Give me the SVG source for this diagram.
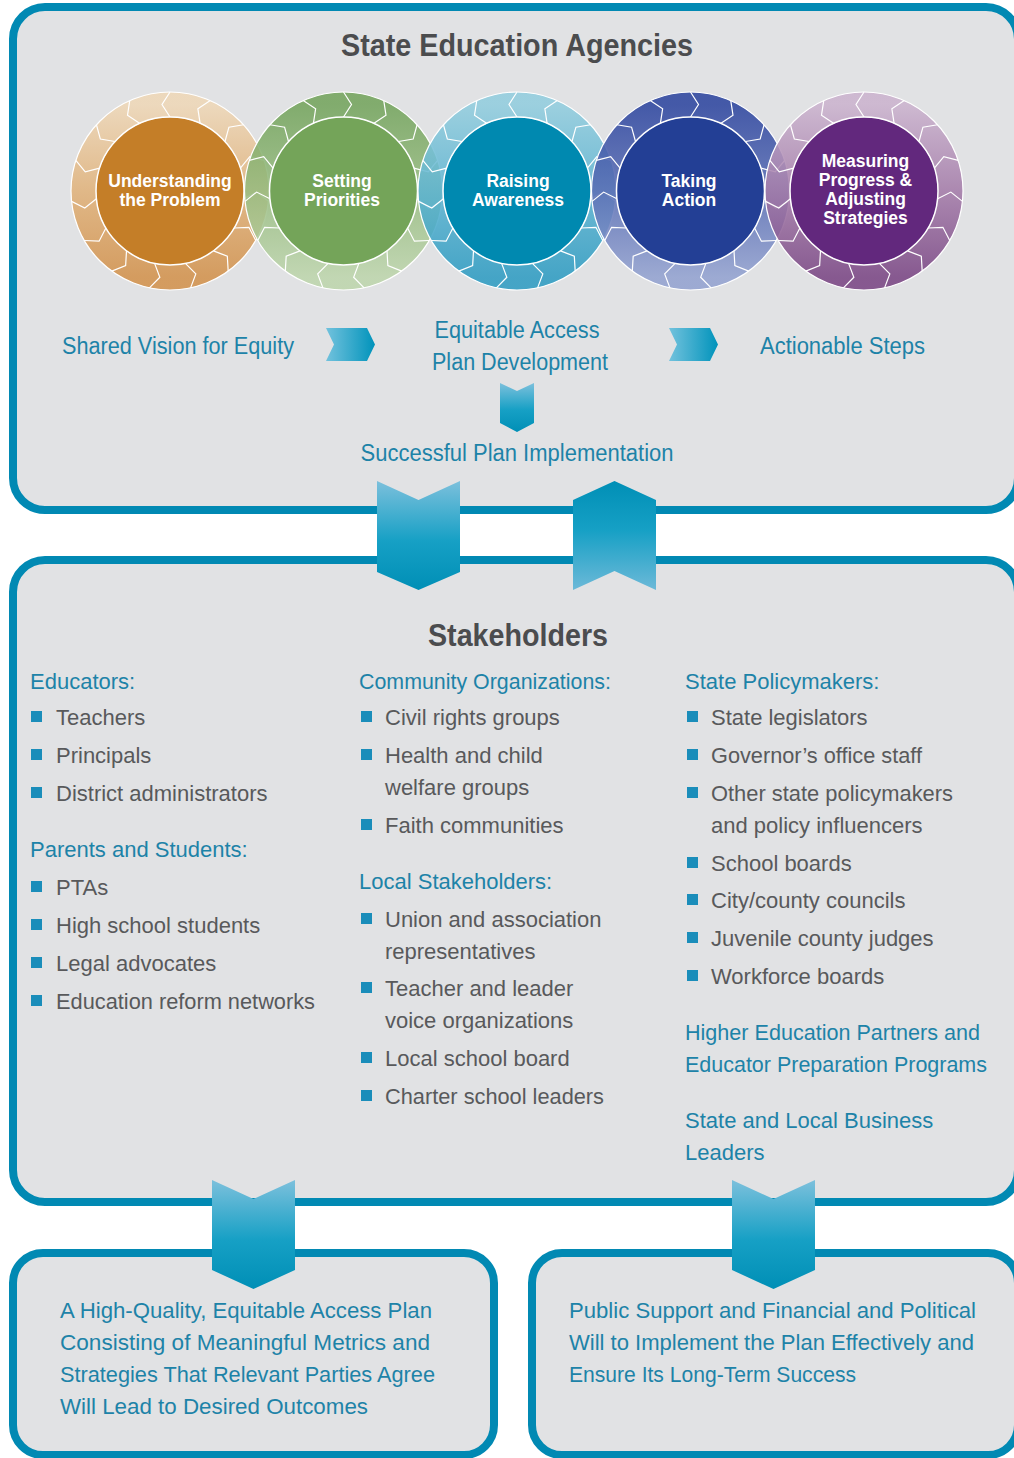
<svg xmlns="http://www.w3.org/2000/svg" width="1014" height="1458" viewBox="0 0 1014 1458">
  <style>
    .panel{fill:#E1E2E4;stroke:#0189B3;stroke-width:8}
    .title{font-family:"Liberation Sans",Arial,sans-serif;font-weight:bold;font-size:31px;fill:#4B4C4E;text-anchor:middle}
    .stage{font-family:"Liberation Sans",Arial,sans-serif;font-weight:bold;font-size:17.5px;fill:#FFFFFF;text-anchor:middle}
    .core{stroke:#FFFFFF;stroke-width:1.5}
    .rim{fill:none;stroke-width:25;stroke-opacity:0.88}
    .edge{fill:none;stroke:#FFFFFF;stroke-width:1.2}
    .seam{fill:none;stroke:#FFFFFF;stroke-width:1.2;stroke-linejoin:miter}
    .lead{font-family:"Liberation Sans",Arial,sans-serif;font-size:23px;fill:#1D83A8}
    .head{font-family:"Liberation Sans",Arial,sans-serif;font-size:22px;fill:#1D83A8}
    .item{font-family:"Liberation Sans",Arial,sans-serif;font-size:22px;fill:#58595B}
    .dot{fill:#1A8DBA}
    .mid{text-anchor:middle}
  </style>
  <defs>
    <linearGradient id="ringOrange" x1="0" y1="0" x2="0" y2="1">
      <stop offset="0" stop-color="#EED7B7"/><stop offset="0.5" stop-color="#E0B27B"/><stop offset="1" stop-color="#D2924D"/>
    </linearGradient>
    <linearGradient id="ringGreen" x1="0" y1="0" x2="0" y2="1">
      <stop offset="0" stop-color="#74A45D"/><stop offset="0.5" stop-color="#98BC81"/><stop offset="1" stop-color="#BDD5AC"/>
    </linearGradient>
    <linearGradient id="ringCyan" x1="0" y1="0" x2="0" y2="1">
      <stop offset="0" stop-color="#92CDDE"/><stop offset="0.5" stop-color="#5EB4D1"/><stop offset="1" stop-color="#2F9CC2"/>
    </linearGradient>
    <linearGradient id="ringBlue" x1="0" y1="0" x2="0" y2="1">
      <stop offset="0" stop-color="#2E469F"/><stop offset="0.5" stop-color="#5B6FB5"/><stop offset="1" stop-color="#93A2D0"/>
    </linearGradient>
    <linearGradient id="ringPurple" x1="0" y1="0" x2="0" y2="1">
      <stop offset="0" stop-color="#CBB3CE"/><stop offset="0.5" stop-color="#A47CA9"/><stop offset="1" stop-color="#7A4684"/>
    </linearGradient>
    <linearGradient id="flowRight" x1="0" y1="0" x2="1" y2="0">
      <stop offset="0" stop-color="#72C2DD"/><stop offset="1" stop-color="#0093BB"/>
    </linearGradient>
    <linearGradient id="flowDown" x1="0" y1="0" x2="0" y2="1">
      <stop offset="0" stop-color="#7CC0DC"/><stop offset="0.55" stop-color="#16A0C5"/><stop offset="1" stop-color="#008FB6"/>
    </linearGradient>
    <linearGradient id="flowUp" x1="0" y1="0" x2="0" y2="1">
      <stop offset="0" stop-color="#008FB6"/><stop offset="0.45" stop-color="#16A0C5"/><stop offset="1" stop-color="#6CB9D8"/>
    </linearGradient>
    <!-- chevron seam across a ring, drawn at the top of a circle centred on the origin -->
    <path id="kinkL" class="seam" d="M0,-74 L-8,-86.5 L0,-99"/>
    <path id="kinkR" class="seam" d="M0,-74 L8,-86.5 L0,-99"/>
    <g id="seamsCCW">
      <use href="#kinkL"/><use href="#kinkL" transform="rotate(24)"/><use href="#kinkL" transform="rotate(48)"/><use href="#kinkL" transform="rotate(72)"/>
      <use href="#kinkL" transform="rotate(96)"/><use href="#kinkL" transform="rotate(120)"/><use href="#kinkL" transform="rotate(144)"/><use href="#kinkL" transform="rotate(168)"/>
      <use href="#kinkL" transform="rotate(192)"/><use href="#kinkL" transform="rotate(216)"/><use href="#kinkL" transform="rotate(240)"/><use href="#kinkL" transform="rotate(264)"/>
      <use href="#kinkL" transform="rotate(288)"/><use href="#kinkL" transform="rotate(312)"/><use href="#kinkL" transform="rotate(336)"/>
    </g>
    <g id="seamsCW">
      <use href="#kinkR"/><use href="#kinkR" transform="rotate(24)"/><use href="#kinkR" transform="rotate(48)"/><use href="#kinkR" transform="rotate(72)"/>
      <use href="#kinkR" transform="rotate(96)"/><use href="#kinkR" transform="rotate(120)"/><use href="#kinkR" transform="rotate(144)"/><use href="#kinkR" transform="rotate(168)"/>
      <use href="#kinkR" transform="rotate(192)"/><use href="#kinkR" transform="rotate(216)"/><use href="#kinkR" transform="rotate(240)"/><use href="#kinkR" transform="rotate(264)"/>
      <use href="#kinkR" transform="rotate(288)"/><use href="#kinkR" transform="rotate(312)"/><use href="#kinkR" transform="rotate(336)"/>
    </g>
  </defs>

  <rect width="1014" height="1458" fill="#FFFFFF"/>

  <!-- State Education Agencies panel -->
  <g id="agencies">
    <rect class="panel" x="13" y="7" width="1005" height="503" rx="32"/>
    <text class="title" x="517" y="56" textLength="352" lengthAdjust="spacingAndGlyphs">State Education Agencies</text>
  </g>

  <!-- cycle of stages -->
  <g id="stage-understanding" transform="translate(170,191)">
    <circle class="rim" r="86.5" stroke="url(#ringOrange)"/>
    <use href="#seamsCCW"/>
    <circle class="edge" r="99"/>
    <circle class="core" r="74" fill="#C47E28"/>
    <text class="stage" x="0" y="-4">Understanding</text>
    <text class="stage" x="0" y="14.5">the Problem</text>
  </g>
  <g id="stage-priorities" transform="translate(343.5,191)">
    <circle class="rim" r="86.5" stroke="url(#ringGreen)"/>
    <use href="#seamsCW"/>
    <circle class="edge" r="99"/>
    <circle class="core" r="74" fill="#74A459"/>
    <text class="stage" x="-1.5" y="-4">Setting</text>
    <text class="stage" x="-1.5" y="14.5">Priorities</text>
  </g>
  <g id="stage-awareness" transform="translate(517,191)">
    <circle class="rim" r="86.5" stroke="url(#ringCyan)"/>
    <use href="#seamsCCW"/>
    <circle class="edge" r="99"/>
    <circle class="core" r="74" fill="#0089B0"/>
    <text class="stage" x="1" y="-4">Raising</text>
    <text class="stage" x="1" y="14.5">Awareness</text>
  </g>
  <g id="stage-action" transform="translate(690.5,191)">
    <circle class="rim" r="86.5" stroke="url(#ringBlue)"/>
    <use href="#seamsCW"/>
    <circle class="edge" r="99"/>
    <circle class="core" r="74" fill="#233F95"/>
    <text class="stage" x="-1.5" y="-4">Taking</text>
    <text class="stage" x="-1.5" y="14.5">Action</text>
  </g>
  <g id="stage-measuring" transform="translate(864,191)">
    <circle class="rim" r="86.5" stroke="url(#ringPurple)"/>
    <use href="#seamsCCW"/>
    <circle class="edge" r="99"/>
    <circle class="core" r="74" fill="#62287D"/>
    <text class="stage" x="1.5" y="-24.5">Measuring</text>
    <text class="stage" x="1.5" y="-5.5">Progress &amp;</text>
    <text class="stage" x="1.5" y="14">Adjusting</text>
    <text class="stage" x="1.5" y="33">Strategies</text>
  </g>

  <!-- plan stages -->
  <g id="vision">
    <text class="lead" x="62" y="354" textLength="232" lengthAdjust="spacingAndGlyphs">Shared Vision for Equity</text>
  </g>
  <g id="development">
    <text class="lead mid" x="517" y="338" textLength="165" lengthAdjust="spacingAndGlyphs">Equitable Access</text>
    <text class="lead mid" x="520" y="370" textLength="176" lengthAdjust="spacingAndGlyphs">Plan Development</text>
  </g>
  <g id="steps">
    <text class="lead" x="760" y="354" textLength="165" lengthAdjust="spacingAndGlyphs">Actionable Steps</text>
  </g>
  <g id="implementation">
    <text class="lead mid" x="517" y="461" textLength="313" lengthAdjust="spacingAndGlyphs">Successful Plan Implementation</text>
  </g>

  <!-- Stakeholders panel -->
  <g id="stakeholders">
    <rect class="panel" x="13" y="560" width="1005" height="642" rx="32"/>
    <text class="title" x="518" y="646" textLength="180" lengthAdjust="spacingAndGlyphs">Stakeholders</text>
  </g>

  <g id="educators">
    <text class="head" x="30" y="689">Educators:</text>
    <rect class="dot" x="31" y="711" width="11" height="11"/>
    <text class="item" x="56" y="725">Teachers</text>
    <rect class="dot" x="31" y="749" width="11" height="11"/>
    <text class="item" x="56" y="763">Principals</text>
    <rect class="dot" x="31" y="787" width="11" height="11"/>
    <text class="item" x="56" y="801">District administrators</text>
  </g>
  <g id="parents-students">
    <text class="head" x="30" y="857">Parents and Students:</text>
    <rect class="dot" x="31" y="881" width="11" height="11"/>
    <text class="item" x="56" y="895">PTAs</text>
    <rect class="dot" x="31" y="919" width="11" height="11"/>
    <text class="item" x="56" y="933">High school students</text>
    <rect class="dot" x="31" y="957" width="11" height="11"/>
    <text class="item" x="56" y="971">Legal advocates</text>
    <rect class="dot" x="31" y="995" width="11" height="11"/>
    <text class="item" x="56" y="1009" textLength="259" lengthAdjust="spacingAndGlyphs">Education reform networks</text>
  </g>

  <g id="community">
    <text class="head" x="359" y="689" textLength="252" lengthAdjust="spacingAndGlyphs">Community Organizations:</text>
    <rect class="dot" x="361" y="711" width="11" height="11"/>
    <text class="item" x="385" y="725">Civil rights groups</text>
    <rect class="dot" x="361" y="749" width="11" height="11"/>
    <text class="item" x="385" y="763">Health and child</text>
    <text class="item" x="385" y="795">welfare groups</text>
    <rect class="dot" x="361" y="819" width="11" height="11"/>
    <text class="item" x="385" y="833">Faith communities</text>
  </g>
  <g id="local">
    <text class="head" x="359" y="889">Local Stakeholders:</text>
    <rect class="dot" x="361" y="913" width="11" height="11"/>
    <text class="item" x="385" y="927">Union and association</text>
    <text class="item" x="385" y="959">representatives</text>
    <rect class="dot" x="361" y="982" width="11" height="11"/>
    <text class="item" x="385" y="996">Teacher and leader</text>
    <text class="item" x="385" y="1028">voice organizations</text>
    <rect class="dot" x="361" y="1052" width="11" height="11"/>
    <text class="item" x="385" y="1066">Local school board</text>
    <rect class="dot" x="361" y="1090" width="11" height="11"/>
    <text class="item" x="385" y="1104" textLength="219" lengthAdjust="spacingAndGlyphs">Charter school leaders</text>
  </g>

  <g id="policymakers">
    <text class="head" x="685" y="689">State Policymakers:</text>
    <rect class="dot" x="687" y="711" width="11" height="11"/>
    <text class="item" x="711" y="725">State legislators</text>
    <rect class="dot" x="687" y="749" width="11" height="11"/>
    <text class="item" x="711" y="763" textLength="211" lengthAdjust="spacingAndGlyphs">Governor’s office staff</text>
    <rect class="dot" x="687" y="787" width="11" height="11"/>
    <text class="item" x="711" y="801" textLength="242" lengthAdjust="spacingAndGlyphs">Other state policymakers</text>
    <text class="item" x="711" y="833">and policy influencers</text>
    <rect class="dot" x="687" y="857" width="11" height="11"/>
    <text class="item" x="711" y="871">School boards</text>
    <rect class="dot" x="687" y="894" width="11" height="11"/>
    <text class="item" x="711" y="908">City/county councils</text>
    <rect class="dot" x="687" y="932" width="11" height="11"/>
    <text class="item" x="711" y="946">Juvenile county judges</text>
    <rect class="dot" x="687" y="970" width="11" height="11"/>
    <text class="item" x="711" y="984">Workforce boards</text>
  </g>
  <g id="higher-ed">
    <text class="head" x="685" y="1040" textLength="295" lengthAdjust="spacingAndGlyphs">Higher Education Partners and</text>
    <text class="head" x="685" y="1072" textLength="302" lengthAdjust="spacingAndGlyphs">Educator Preparation Programs</text>
  </g>
  <g id="business">
    <text class="head" x="685" y="1128">State and Local Business</text>
    <text class="head" x="685" y="1160">Leaders</text>
  </g>

  <!-- outcome panels -->
  <g id="outcome-plan">
    <rect class="panel" x="13" y="1253" width="481" height="202" rx="30"/>
    <text class="head" x="60" y="1318" textLength="372" lengthAdjust="spacingAndGlyphs">A High-Quality, Equitable Access Plan</text>
    <text class="head" x="60" y="1350" textLength="370" lengthAdjust="spacingAndGlyphs">Consisting of Meaningful Metrics and</text>
    <text class="head" x="60" y="1382" textLength="375" lengthAdjust="spacingAndGlyphs">Strategies That Relevant Parties Agree</text>
    <text class="head" x="60" y="1414" textLength="308" lengthAdjust="spacingAndGlyphs">Will Lead to Desired Outcomes</text>
  </g>
  <g id="outcome-support">
    <rect class="panel" x="532" y="1253" width="486" height="202" rx="30"/>
    <text class="head" x="569" y="1318" textLength="407" lengthAdjust="spacingAndGlyphs">Public Support and Financial and Political</text>
    <text class="head" x="569" y="1350" textLength="405" lengthAdjust="spacingAndGlyphs">Will to Implement the Plan Effectively and</text>
    <text class="head" x="569" y="1382" textLength="287" lengthAdjust="spacingAndGlyphs">Ensure Its Long-Term Success</text>
  </g>

  <!-- flow chevrons -->
  <g id="connectors">
    <polygon points="326,328 367,328 375,344.5 367,361 326,361 334,344.5" fill="url(#flowRight)"/>
    <polygon points="669,328 710,328 718,344.5 710,361 669,361 677,344.5" fill="url(#flowRight)"/>
    <polygon points="500,383 517,391 534,383 534,423 517,432 500,423" fill="url(#flowDown)"/>
    <polygon points="377,481 418.5,500 460,481 460,572 418.5,590 377,572" fill="url(#flowDown)"/>
    <polygon points="573,500 614.5,481 656,500 656,590 614.5,571 573,590" fill="url(#flowUp)"/>
    <polygon points="212,1180 253.5,1199 295,1180 295,1270 253.5,1289 212,1270" fill="url(#flowDown)"/>
    <polygon points="732,1180 773.5,1199 815,1180 815,1270 773.5,1289 732,1270" fill="url(#flowDown)"/>
  </g>
</svg>
